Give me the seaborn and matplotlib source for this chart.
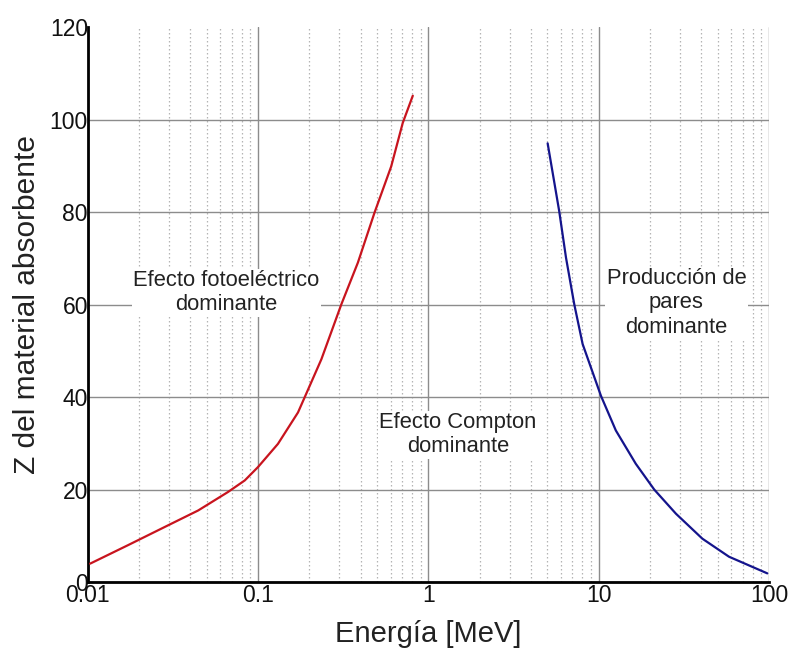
import matplotlib
matplotlib.use("Agg")
import matplotlib.pyplot as plt
import seaborn as sns
import pandas as pd
from matplotlib.ticker import LogLocator, FixedLocator, FixedFormatter, NullFormatter

# Photoelectric / Compton boundary (red)
photo_E = [0.0103, 0.0172, 0.0296, 0.0444, 0.0665, 0.0834, 0.0998, 0.1306, 0.1713, 0.1876,
           0.235, 0.308, 0.385, 0.482, 0.604, 0.706, 0.809]
photo_Z = [4.0, 8.0, 12.3, 15.5, 19.5, 22.0, 24.9, 29.9, 36.7, 40.0,
           48.2, 60.1, 69.1, 79.9, 89.9, 99.3, 105.2]

# Compton / pair production boundary (blue)
pair_E = [5.01, 5.86, 6.42, 7.18, 8.04, 9.0, 10.3, 12.6, 16.5, 21.2, 28.4, 40.6, 58.2, 97.7]
pair_Z = [94.9, 80.2, 70.2, 60.1, 51.5, 46.4, 40.3, 32.8, 25.6, 20.0, 14.8, 9.4, 5.5, 1.9]

x_ticks = [0.01, 0.1, 1, 10, 100]
x_tick_labels = ["0.01", "0.1", "1", "10", "100"]
y_ticks = [0, 20, 40, 60, 80, 100, 120]

region_labels = ["Efecto fotoeléctrico\ndominante", "Efecto Compton\ndominante", "Producción de\npares\ndominante"]
region_E = [0.065, 1.486, 28.6]
region_Z = [62.6, 31.9, 60.4]

sns.set_style("white")
plt.rcParams['font.family'] = ['Liberation Sans', 'DejaVu Sans']

fig = plt.figure(figsize=(7.92, 6.49), dpi=100)
ax = fig.add_axes([0.111, 0.103, 0.860, 0.855])

df_photo = pd.DataFrame({"E": photo_E, "Z": photo_Z})
df_pair = pd.DataFrame({"E": pair_E, "Z": pair_Z})
sns.lineplot(data=df_photo, x="E", y="Z", ax=ax, color="#c8141e", linewidth=1.6, sort=False, zorder=5)
sns.lineplot(data=df_pair, x="E", y="Z", ax=ax, color="#14148c", linewidth=1.6, sort=False, zorder=5)

ax.set_xscale("log")
ax.set_xlim(0.01, 100)
ax.set_ylim(0, 120)

ax.xaxis.set_major_locator(FixedLocator(x_ticks))
ax.xaxis.set_major_formatter(FixedFormatter(x_tick_labels))
ax.xaxis.set_minor_locator(LogLocator(base=10, subs=range(2, 10)))
ax.xaxis.set_minor_formatter(NullFormatter())
ax.yaxis.set_major_locator(FixedLocator(y_ticks))

ax.grid(True, which="major", axis="both", color="#8c8c8c", linewidth=1.0, linestyle="-")
ax.grid(True, which="minor", axis="x", color="#b4b4b4", linewidth=0.9, linestyle=(0, (1.2, 2.0)))
ax.set_axisbelow(True)
# no gridline along the top edge (y = 120)
ax.yaxis.get_gridlines()[-1].set_visible(False)

for s in ["top", "right"]:
    ax.spines[s].set_visible(False)
for s in ["left", "bottom"]:
    ax.spines[s].set_color("black")
    ax.spines[s].set_linewidth(2.0)

ax.tick_params(axis="both", which="both", length=0, labelsize=16.5, colors="#111111")
ax.tick_params(axis="y", pad=0)
ax.tick_params(axis="x", pad=1)

ax.set_xlabel("Energía [MeV]", fontsize=21, color="#222222", labelpad=10)
ax.set_ylabel("Z del material absorbente", fontsize=21.5, color="#222222", labelpad=6)

for lab, e, z in zip(region_labels, region_E, region_Z):
    ax.text(e, z, lab, ha="center", va="center", fontsize=15.8, color="#222222",
            linespacing=1.2, zorder=4,
            bbox=dict(facecolor="white", edgecolor="none", pad=1.0))

fig.savefig("out.png", dpi=100)
